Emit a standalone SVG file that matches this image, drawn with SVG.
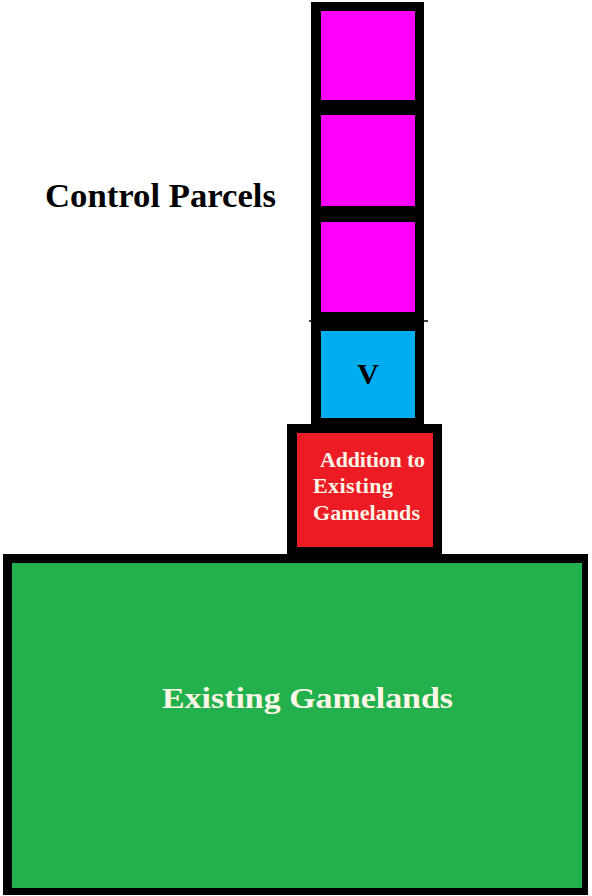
<svg xmlns="http://www.w3.org/2000/svg" width="592" height="896" viewBox="0 0 592 896">
<style>
.frame{fill:#000}
.mag{fill:#ff00ff}
.blue{fill:#00aeef}
.red{fill:#ed1c24}
.green{fill:#22b14c}
.dark{fill:#000}
.light{fill:#fff6e8}
</style>
<rect width="592" height="896" fill="#fff"/>
<g id="control-parcels-column">
<rect class="frame" x="311" y="2" width="113" height="422"/>
</g>
<g id="parcel-1"><rect class="mag" x="321" y="11" width="94" height="89"/></g>
<g id="parcel-2"><rect class="mag" x="321" y="115" width="94" height="91"/></g>
<g id="parcel-3"><rect class="mag" x="321" y="222" width="94" height="90"/></g>
<g id="connectors">
<line x1="309" y1="321" x2="428" y2="321" stroke="#000" stroke-width="1.5"/>
</g>
<g font-family="Liberation Serif, DejaVu Serif, serif" font-weight="bold">
<g id="parcel-v">
<rect class="blue" x="321" y="331" width="94" height="87"/>
<text class="dark" x="368" y="384" font-size="30" text-anchor="middle">V</text>
</g>
<g id="addition">
<rect class="frame" x="287" y="424" width="155" height="131"/>
<rect class="red" x="297" y="433" width="136" height="114"/>
<text class="light" font-size="22">
<tspan x="320" y="467" textLength="105">Addition to</tspan>
<tspan x="313" y="493" textLength="80">Existing</tspan>
<tspan x="313" y="520" textLength="107">Gamelands</tspan>
</text>
</g>
<g id="existing-gamelands">
<rect class="frame" x="3" y="554" width="585" height="341"/>
<rect class="green" x="12" y="563" width="570" height="325"/>
<text class="light" x="162" y="708" font-size="30" textLength="291" lengthAdjust="spacingAndGlyphs">Existing Gamelands</text>
</g>
<g id="control-parcels-label">
<text class="dark" x="45" y="207" font-size="33" textLength="231" lengthAdjust="spacingAndGlyphs">Control Parcels</text>
</g>
</g>
</svg>
